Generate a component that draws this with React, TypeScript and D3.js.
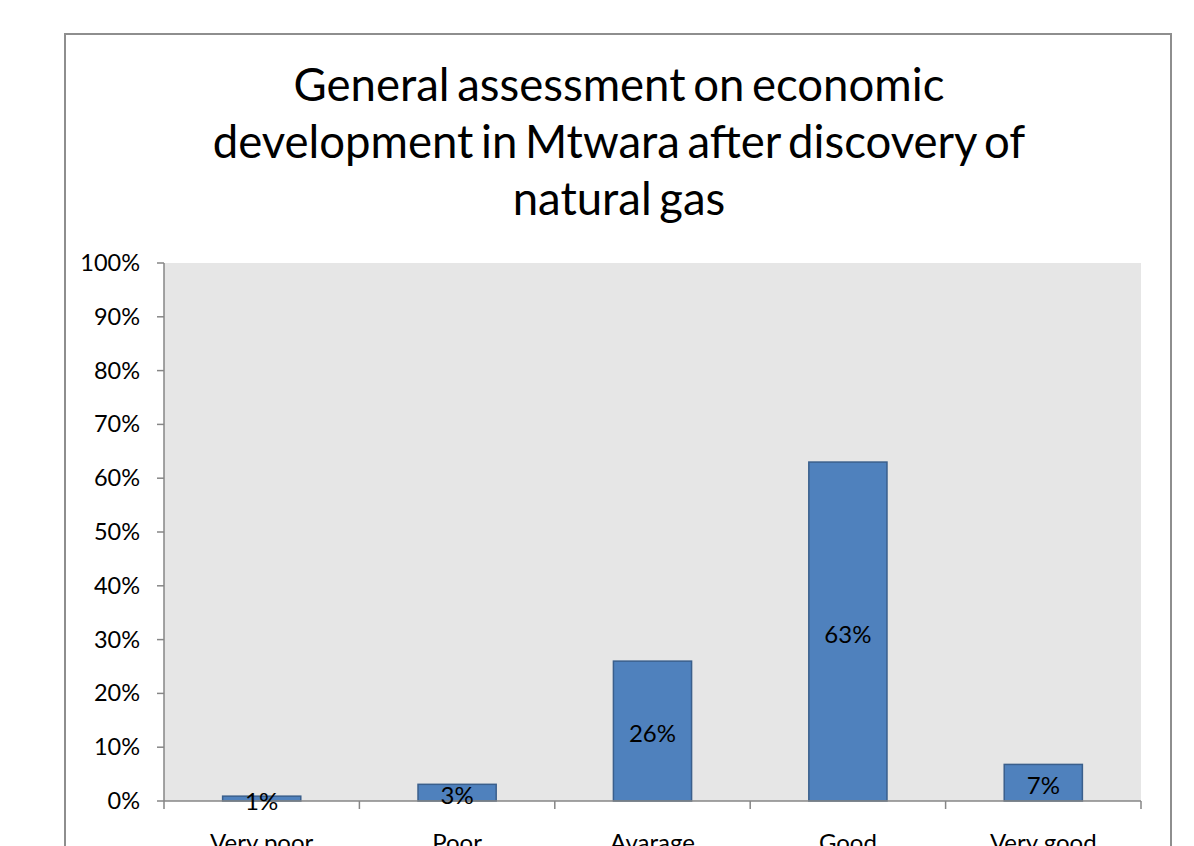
import * as d3 from "d3";

const TITLE_LINES = [
  "General assessment on economic",
  "development in Mtwara after discovery of",
  "natural gas",
];
const CATEGORIES = ["Very poor", "Poor", "Avarage", "Good", "Very good"];
const VALUES = [0.009, 0.031, 0.26, 0.63, 0.068];
const LABELS = ["1%", "3%", "26%", "63%", "7%"];
const Y_TICKS = [0, 0.1, 0.2, 0.3, 0.4, 0.5, 0.6, 0.7, 0.8, 0.9, 1];

const FONT = "Lato, 'Open Sans', sans-serif";

export default function App() {
  const width = 1194;
  const height = 846;
  const plot = { left: 164, right: 1141, top: 263, bottom: 801 };

  const x = d3
    .scaleBand<string>()
    .domain(CATEGORIES)
    .range([plot.left, plot.right])
    .paddingInner(0.6)
    .paddingOuter(0.3);

  const y = d3.scaleLinear().domain([0, 1]).range([plot.bottom, plot.top]);

  const step = x.step();
  // category boundaries for the x-axis tick marks
  const boundaries = d3.range(CATEGORIES.length + 1).map((i) => plot.left + i * step);
  const pct = d3.format(".0%");

  return (
    <svg
      width={width}
      height={height}
      style={{ position: "absolute", left: 0, top: 0, background: "#fff" }}
      fontFamily={FONT}
    >
      {/* chart frame */}
      <rect x={65} y={34} width={1106} height={900} fill="#fff" stroke="#8e8e8e" strokeWidth={2} />

      {/* title */}
      {TITLE_LINES.map((t, i) => (
        <text
          key={t}
          x={619}
          y={101 + i * 57}
          textAnchor="middle"
          fontSize={45.5}
          wordSpacing={-4}
          fill="#000"
        >
          {t}
        </text>
      ))}

      {/* plot area */}
      <rect
        x={plot.left}
        y={plot.top}
        width={plot.right - plot.left}
        height={plot.bottom - plot.top}
        fill="#e6e6e6"
      />

      {/* y axis */}
      <line x1={plot.left} x2={plot.left} y1={plot.top} y2={plot.bottom} stroke="#868686" strokeWidth={1.5} />
      {Y_TICKS.map((t) => (
        <g key={t}>
          <line x1={plot.left - 7} x2={plot.left} y1={y(t)} y2={y(t)} stroke="#868686" strokeWidth={1.5} />
          <text x={140} y={y(t) + 2} textAnchor="end" dominantBaseline="middle" fontSize={23.5} fill="#000">
            {pct(t)}
          </text>
        </g>
      ))}

      {/* bars */}
      {CATEGORIES.map((c, i) => (
        <rect
          key={c}
          x={x(c)}
          y={y(VALUES[i])}
          width={x.bandwidth()}
          height={plot.bottom - y(VALUES[i])}
          fill="#4f81bd"
          stroke="#3a5f8c"
          strokeWidth={1.5}
        />
      ))}

      {/* x axis */}
      <line x1={plot.left} x2={plot.right} y1={plot.bottom} y2={plot.bottom} stroke="#868686" strokeWidth={1.5} />
      {boundaries.map((b, i) => (
        <line key={i} x1={b} x2={b} y1={plot.bottom} y2={plot.bottom + 8} stroke="#868686" strokeWidth={1.5} />
      ))}
      {CATEGORIES.map((c) => (
        <text
          key={c}
          x={(x(c) ?? 0) + x.bandwidth() / 2}
          y={851}
          textAnchor="middle"
          fontSize={24}
          fill="#000"
        >
          {c}
        </text>
      ))}

      {/* data labels */}
      {CATEGORIES.map((c, i) => (
        <text
          key={c}
          x={(x(c) ?? 0) + x.bandwidth() / 2}
          y={(y(VALUES[i]) + plot.bottom) / 2 + 5}
          textAnchor="middle"
          dominantBaseline="middle"
          fontSize={24}
          fill="#000"
        >
          {LABELS[i]}
        </text>
      ))}
    </svg>
  );
}
